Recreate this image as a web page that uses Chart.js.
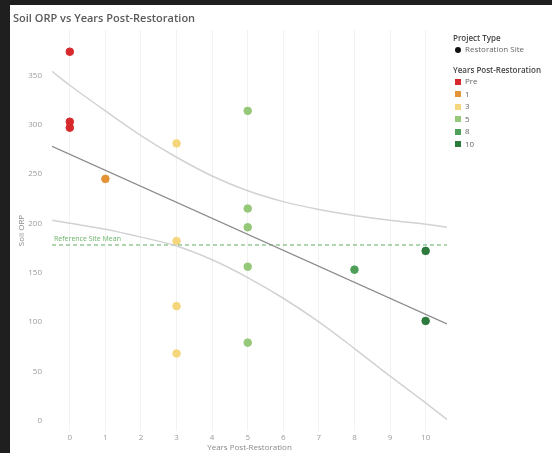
<!DOCTYPE html>
<html>
<head>
<meta charset="utf-8">
<script src="https://cdn.jsdelivr.net/npm/chart.js@4.4.1/dist/chart.umd.min.js"></script>
<style>
  html, body { margin: 0; padding: 0; background: #1f1f1f; width: 552px; height: 453px; overflow: hidden; }
  #panel { position: absolute; left: 10px; top: 5px; width: 542px; height: 448px; background: #fff; font-family: "Open Sans", "Noto Sans", sans-serif; }
  #title { position: absolute; left: 3px; top: 5px; font-size: 11px; font-weight: 600; color: #5a5a5a; }
  #chartBox { position: absolute; left: 0; top: 0; width: 445px; height: 448px; }
  .legend { position: absolute; left: 443px; font-size: 8px; color: #666; white-space: nowrap; }
  .legend .hd { color: #444; font-weight: 600; }
  .legend .row { height: 12.6px; line-height: 12.6px; }
  .sw { display: inline-block; width: 6px; height: 6px; margin: 0 4px 0 2px; vertical-align: -0.5px; }
  .dot { display: inline-block; width: 6px; height: 6px; border-radius: 50%; background: #111; margin: 0 4px 0 2px; vertical-align: -0.5px; }
</style>
</head>
<body>
<div id="panel">
  <div id="chartBox"><canvas id="myChart"></canvas></div>
  <div id="title">Soil ORP vs Years Post-Restoration</div>
  <div class="legend" style="top:27px">
    <div class="hd">Project Type</div>
    <div><span class="dot"></span>Restoration Site</div>
  </div>
  <div class="legend" style="top:59px" id="legendYears">
    <div class="hd">Years Post-Restoration</div>
  </div>
</div>
<script>
// categories (years post-restoration) and colours
const groups = ["Pre", "1", "3", "5", "8", "10"];
const groupColors = ["#d7282c", "#e39436", "#f6d67c", "#95c878", "#4f9e5a", "#2d7a3d"];

// soil ORP readings per group
const groupYears = [0, 1, 3, 5, 8, 10];
const orpPre = [374, 303, 297];
const orp1 = [245];
const orp3 = [281, 182, 116, 68];
const orp5 = [314, 215, 196, 156, 79];
const orp8 = [153];
const orp10 = [172, 101];
const groupValues = [orpPre, orp1, orp3, orp5, orp8, orp10];

// trend line and its confidence band
const trendX = [-0.5, 10.6];
const trendY = [278, 98];
const bandX = [-0.5, 0, 1, 2, 3, 4, 5, 6, 7, 8, 9, 10, 10.6];
const bandUpper = [354, 340, 314, 289, 267, 248, 233, 222, 214, 208, 203, 199, 196];
const bandLower = [203, 200, 194, 186, 177, 163, 145, 124, 100, 73, 45, 18, 1];

// reference mean
const refValue = 178;
const refLabel = "Reference Site Mean";

// ticks
const xTicks = [0, 1, 2, 3, 4, 5, 6, 7, 8, 9, 10];
const yTicks = [0, 50, 100, 150, 200, 250, 300, 350];

// html legend
const lg = document.getElementById("legendYears");
groups.forEach((g, i) => {
  const row = document.createElement("div");
  row.className = "row";
  row.innerHTML = '<span class="sw" style="background:' + groupColors[i] + '"></span>' + g;
  lg.appendChild(row);
});

const xy = (xs, ys) => xs.map((x, i) => ({ x: x, y: ys[i] }));

const datasets = [
  {
    type: "line", data: xy(bandX, bandUpper), borderColor: "#d2d2d2", borderWidth: 1.5,
    pointRadius: 0, cubicInterpolationMode: "monotone", fill: false,
  },
  {
    type: "line", data: xy(bandX, bandLower), borderColor: "#d2d2d2", borderWidth: 1.5,
    pointRadius: 0, cubicInterpolationMode: "monotone", fill: false,
  },
  {
    type: "line", data: xy(trendX, trendY), borderColor: "#8a8a8a", borderWidth: 1.3,
    pointRadius: 0, fill: false,
  },
  {
    type: "line", data: xy([-0.5, 10.6], [refValue, refValue]), borderColor: "#5fae62",
    borderWidth: 1, borderDash: [4, 3], pointRadius: 0, fill: false,
  },
];
groups.forEach((g, i) => {
  datasets.push({
    type: "scatter",
    label: g,
    data: groupValues[i].map((v) => ({ x: groupYears[i], y: v })),
    backgroundColor: groupColors[i],
    borderColor: groupColors[i],
    pointRadius: 3.8,
    pointHoverRadius: 3.8,
  });
});

const refLabelPlugin = {
  id: "refLabel",
  afterDatasetsDraw(chart) {
    const ctx = chart.ctx;
    const x = chart.scales.x.getPixelForValue(-0.5) + 2;
    const y = chart.scales.y.getPixelForValue(refValue) - 4;
    ctx.save();
    ctx.font = "7px 'Open Sans', sans-serif";
    ctx.fillStyle = "#6cb46c";
    ctx.fillText(refLabel, x, y);
    ctx.restore();
  },
};

const config = {
  type: "scatter",
  data: { datasets: datasets },
  plugins: [refLabelPlugin],
  options: {
    responsive: true,
    maintainAspectRatio: false,
    animation: false,
    layout: { padding: { top: 25, right: 8 } },
    plugins: {
      legend: { display: false },
      tooltip: { enabled: false },
    },
    scales: {
      x: {
        type: "linear",
        min: -0.5,
        max: 10.6,
        afterBuildTicks: (scale) => { scale.ticks = xTicks.map((v) => ({ value: v })); },
        afterFit: (scale) => { scale.height = 22; },
        grid: { color: "#f2f2f2", drawTicks: false },
        border: { display: false },
        ticks: { color: "#9a9a9a", font: { size: 8, family: "'Open Sans', sans-serif" }, padding: 2 },
        title: {
          display: true, text: "Years Post-Restoration", color: "#8a8a8a",
          font: { size: 8, family: "'Open Sans', sans-serif" }, padding: { top: 1, bottom: 0 },
        },
      },
      y: {
        min: -10.6,
        max: 396,
        afterBuildTicks: (scale) => { scale.ticks = yTicks.map((v) => ({ value: v })); },
        afterFit: (scale) => { scale.width = 42; },
        grid: { display: false, drawTicks: false },
        border: { display: false },
        ticks: { color: "#9a9a9a", font: { size: 8, family: "'Open Sans', sans-serif" }, padding: 10 },
        title: {
          display: true, text: "Soil ORP", color: "#8a8a8a",
          font: { size: 8, family: "'Open Sans', sans-serif" }, padding: { top: 7, bottom: 0 },
        },
      },
    },
  },
};

new Chart(document.getElementById("myChart"), config);
</script>
</body>
</html>
